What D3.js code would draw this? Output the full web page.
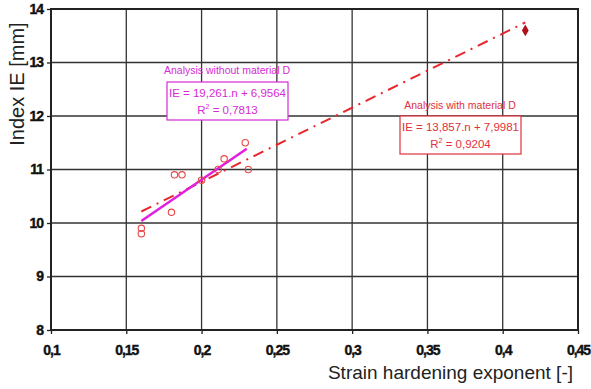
<!DOCTYPE html>
<html>
<head>
<meta charset="utf-8">
<script src="https://cdn.jsdelivr.net/npm/d3@7"></script>
<style>
  body { margin: 0; background: #fff; }
  svg text { font-family: "Liberation Sans", Arial, sans-serif; }
</style>
</head>
<body>
<div id="chart"></div>
<script>
// measured points (n, IE)
const nOpen = [0.16, 0.16, 0.18, 0.182, 0.187, 0.2, 0.211, 0.215, 0.229, 0.231]
const ieOpen = [9.9, 9.8, 10.2, 10.9, 10.9, 10.8, 11.0, 11.2, 11.5, 11.0]
const nD = [0.415]
const ieD = [13.6]

// trend lines: [slope, intercept, from, to]
const fitWithout = [19.261, 6.9564, 0.16, 0.23]
const fitWith = [13.857, 7.9981, 0.16, 0.415]

const xTicks = [0.1, 0.15, 0.2, 0.25, 0.3, 0.35, 0.4, 0.45]
const yTicks = [8, 9, 10, 11, 12, 13, 14]

const W = 591, H = 389
const m = { left: 51, right: 578, top: 9, bottom: 330 }

const svg = d3.select("#chart").append("svg")
  .attr("width", W)
  .attr("height", H)

const x = d3.scaleLinear().domain([0.1, 0.45]).range([m.left, m.right])
const y = d3.scaleLinear().domain([8, 14]).range([m.bottom, m.top])
const fmt = d => String(d).replace(".", ",")

// grid
svg.append("g").selectAll("line")
  .data(xTicks.slice(1, -1))
  .join("line")
  .attr("x1", d => x(d)).attr("x2", d => x(d))
  .attr("y1", m.top).attr("y2", m.bottom)
  .attr("stroke", "#333").attr("stroke-width", 1.3)
svg.append("g").selectAll("line")
  .data(yTicks.slice(1, -1))
  .join("line")
  .attr("x1", m.left).attr("x2", m.right)
  .attr("y1", d => y(d)).attr("y2", d => y(d))
  .attr("stroke", "#333").attr("stroke-width", 1.3)

// frame
svg.append("rect")
  .attr("x", m.left).attr("y", m.top)
  .attr("width", m.right - m.left).attr("height", m.bottom - m.top)
  .attr("fill", "none").attr("stroke", "#222").attr("stroke-width", 2)

// axes
const xAxis = svg.append("g")
  .attr("transform", `translate(0,${m.bottom})`)
  .call(d3.axisBottom(x).tickValues(xTicks).tickFormat(fmt).tickSize(4).tickPadding(11))
const yAxis = svg.append("g")
  .attr("transform", `translate(${m.left},0)`)
  .call(d3.axisLeft(y).tickValues(yTicks).tickFormat(fmt).tickSize(4).tickPadding(4))
xAxis.select(".domain").remove()
yAxis.select(".domain").remove()
svg.selectAll(".tick line").attr("stroke", "#222").attr("stroke-width", 1.3)
svg.selectAll(".tick text")
  .attr("font-family", "Liberation Sans, Arial, sans-serif")
  .attr("font-size", 14).attr("font-weight", "bold").attr("fill", "#111")
  .attr("letter-spacing", -1)
  .attr("stroke", "#111").attr("stroke-width", 0.4)

// axis titles
svg.append("text")
  .attr("transform", "translate(24,84) rotate(-90)")
  .attr("text-anchor", "middle")
  .attr("font-size", 20).attr("fill", "#222")
  .text("Index IE [mm]")
svg.append("text")
  .attr("x", 573).attr("y", 379)
  .attr("text-anchor", "end")
  .attr("font-size", 19).attr("fill", "#222")
  .text("Strain hardening exponent [-]")

// trend lines
function fitLine(f) {
  return [[f[2], f[0] * f[2] + f[1]], [f[3], f[0] * f[3] + f[1]]]
}
const line = d3.line().x(d => x(d[0])).y(d => y(d[1]))
svg.append("path")
  .attr("d", line(fitLine(fitWith)))
  .attr("stroke", "#e8262e").attr("stroke-width", 2)
  .attr("stroke-dasharray", "11,6,2,6").attr("fill", "none")
svg.append("path")
  .attr("d", line(fitLine(fitWithout)))
  .attr("stroke", "#e21ee0").attr("stroke-width", 2.5).attr("fill", "none")

// points
svg.append("g").selectAll("circle")
  .data(d3.zip(nOpen, ieOpen))
  .join("circle")
  .attr("cx", d => x(d[0])).attr("cy", d => y(d[1]))
  .attr("r", 3.2).attr("fill", "none")
  .attr("stroke", "#e84848").attr("stroke-width", 1.1)
svg.append("g").selectAll("path")
  .data(d3.zip(nD, ieD))
  .join("path")
  .attr("d", d3.symbol(d3.symbolDiamond, 40))
  .attr("transform", d => `translate(${x(d[0])},${y(d[1])})`)
  .attr("fill", "#b0101a")

// annotations
function note(cx, ty, bx, by, bw, bh, col, title, eq, r2) {
  svg.append("text").attr("x", cx).attr("y", ty)
    .attr("text-anchor", "middle").attr("font-size", 10.5).attr("fill", col)
    .text(title)
  svg.append("rect").attr("x", bx).attr("y", by).attr("width", bw).attr("height", bh)
    .attr("fill", "#fff").attr("stroke", col).attr("stroke-width", 1.2)
  const bc = bx + bw / 2
  svg.append("text").attr("x", bc).attr("y", by + 15)
    .attr("text-anchor", "middle").attr("font-size", 11.5).attr("fill", col)
    .text(eq)
  const t = svg.append("text").attr("x", bc).attr("y", by + 32)
    .attr("text-anchor", "middle").attr("font-size", 11.5).attr("fill", col)
  t.append("tspan").text("R")
  t.append("tspan").attr("dy", -5).attr("font-size", 7).text("2")
  t.append("tspan").attr("dy", 5).text(" = " + r2)
}
note(227, 74, 167, 82, 121, 38, "#d62ad6", "Analysis without material D", "IE = 19,261.n + 6,9564", "0,7813")
note(460, 109, 400, 116, 121, 38, "#e0303c", "Analysis with material D", "IE = 13,857.n + 7,9981", "0,9204")
</script>
</body>
</html>
